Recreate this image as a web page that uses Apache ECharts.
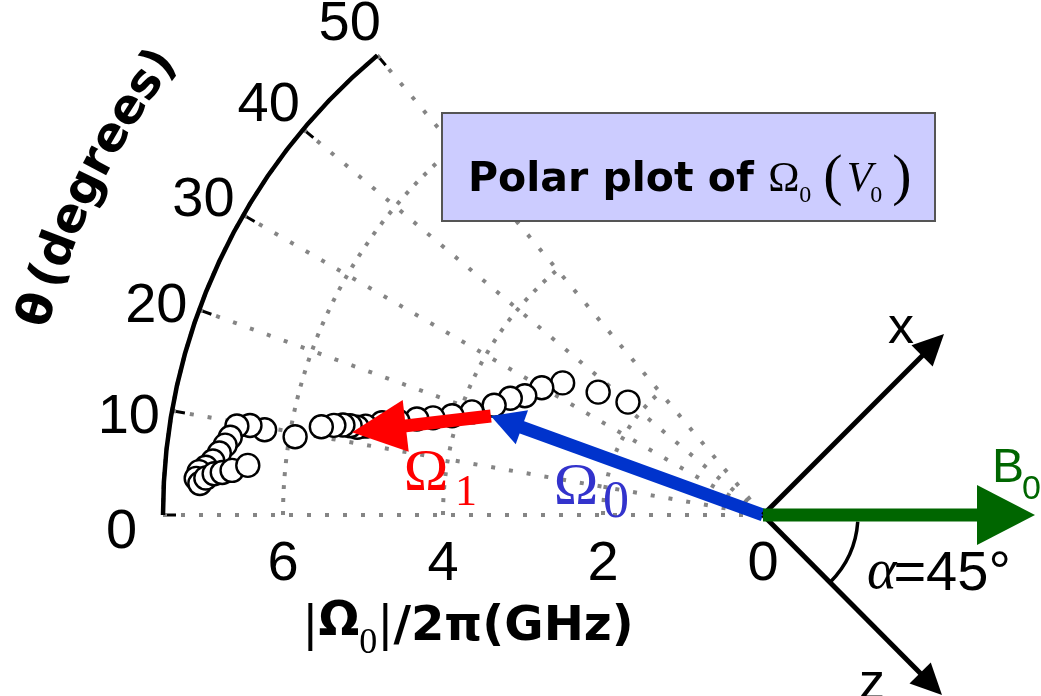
<!DOCTYPE html>
<html>
<head>
<meta charset="utf-8">
<script src="https://cdn.jsdelivr.net/npm/echarts@6/dist/echarts.min.js"></script>
<style>
  html, body { margin: 0; padding: 0; background: #fff; }
  #chart { width: 1041px; height: 696px; }
</style>
</head>
<body>
<div id="chart"></div>
<script>
// Precession frequency |Ω0|/2π (GHz) and tilt angle θ (degrees), one entry per bias step
const omegaGHz = [2.20, 2.57, 3.00, 3.19, 3.33, 3.48, 3.63, 3.86, 4.08, 4.30, 4.49, 4.71,
                  4.90, 5.09, 5.19, 5.28, 5.37, 5.48, 5.63, 5.93, 6.32, 6.51, 6.67, 6.73,
                  6.78, 6.84, 6.91, 6.99, 7.07, 7.10, 7.05, 6.98, 6.88, 6.78, 6.66, 6.47];
const thetaDeg = [39.9, 36.7, 33.4, 29.9, 26.6, 24.8, 22.2, 19.5, 17.7, 16.4, 15.5, 14.4,
                  13.6, 12.6, 12.2, 12.2, 12.1, 11.8, 11.3, 9.5, 9.7, 9.9, 9.6, 8.3,
                  7.4, 6.5, 5.6, 4.9, 4.4, 3.7, 3.2, 3.8, 4.3, 4.5, 4.8, 5.5];

// Axis ticks
const radiusTicks = [0, 2, 4, 6];
const angleTicks = [0, 10, 20, 30, 40, 50];
const radiusMax = 7.5;

// Vectors as [tail radius, tail angle, head radius, head angle]
const omega0Vector = [0, 0, 3.62, 20.0];
const omega1Vector = [3.62, 20.0, 5.24, 11.4];

const points = omegaGHz.map((r, i) => [r, thetaDeg[i]]);

function arrowRenderer(color, shaftWidth, headLen, headHalf) {
  return function (params, api) {
    const p0 = api.coord([api.value(0), api.value(1)]);
    const p1 = api.coord([api.value(2), api.value(3)]);
    return { type: 'group', children: arrowShapes(p0, p1, color, shaftWidth, headLen, headHalf) };
  };
}

function arrowShapes(p0, p1, color, shaftWidth, headLen, headHalf) {
  const dx = p1[0] - p0[0], dy = p1[1] - p0[1];
  const len = Math.hypot(dx, dy);
  const ux = dx / len, uy = dy / len;
  const bx = p1[0] - ux * headLen, by = p1[1] - uy * headLen;
  return [
    { type: 'line', shape: { x1: p0[0], y1: p0[1], x2: bx + ux * 2, y2: by + uy * 2 },
      style: { stroke: color, lineWidth: shaftWidth } },
    { type: 'polygon', shape: { points: [[p1[0], p1[1]], [bx - uy * headHalf, by + ux * headHalf], [bx + uy * headHalf, by - ux * headHalf]] },
      style: { fill: color } }
  ];
}

const chart = echarts.init(document.getElementById('chart'));
const gridStyle = { color: '#858585', width: 4 };

chart.setOption({
  animation: false,
  backgroundColor: '#ffffff',
  polar: { center: [763, 515], radius: [0, 600] },
  angleAxis: {
    type: 'value', min: 0, max: 50, interval: 10,
    startAngle: 180, endAngle: 130, clockwise: true,
    axisLine: { lineStyle: { color: '#000', width: 4.5 } },
    axisTick: { inside: true, length: 13, lineStyle: { color: '#000', width: 3 } },
    axisLabel: { show: false },
    splitLine: { show: true, lineStyle: Object.assign({ type: [4, 14] }, gridStyle) }
  },
  radiusAxis: {
    type: 'value', min: 0, max: radiusMax, interval: 2,
    axisLine: { show: false },
    axisTick: { show: false },
    axisLabel: {
      customValues: radiusTicks,
      fontSize: 56, color: '#000', fontFamily: 'Liberation Sans', margin: 22
    },
    splitLine: { show: true, lineStyle: Object.assign({ type: [4, 9] }, gridStyle) }
  },
  series: [
    {
      type: 'scatter', coordinateSystem: 'polar', data: points,
      symbol: 'circle', symbolSize: 23, z: 3, silent: true,
      itemStyle: { color: '#ffffff', borderColor: '#000', borderWidth: 2.4, opacity: 1 }
    },
    {
      type: 'custom', coordinateSystem: 'polar', data: [omega0Vector], z: 4, silent: true,
      renderItem: arrowRenderer('#0033cc', 13, 33, 18)
    },
    {
      type: 'custom', coordinateSystem: 'polar', data: [omega1Vector], z: 5, silent: true,
      renderItem: arrowRenderer('#ff0000', 13, 54, 26)
    }
  ]
});

// ---- annotations placed relative to the polar origin ----
const ctx = document.createElement('canvas').getContext('2d');
function textWidth(str, font) { ctx.font = font; return ctx.measureText(str).width; }
const c = chart.convertToPixel({ polarIndex: 0 }, [0, 0]);

function txt(x, y, text, font, fill, align, extra) {
  return Object.assign({
    type: 'text', x: x, y: y, silent: true, z: 100,
    style: { text: text, font: font, fill: fill || '#000', align: align || 'center', verticalAlign: 'middle' }
  }, extra || {});
}

// Lay pieces left to right: [text, font, fill, dy, extra gap]
function run(x, y, pieces) {
  const out = [];
  let cx = x;
  pieces.forEach(p => {
    out.push(txt(cx, y + (p[3] || 0), p[0], p[1], p[2], 'left'));
    cx += textWidth(p[0], p[1]) + (p[4] || 0);
  });
  return out;
}
function runWidth(pieces) {
  return pieces.reduce((s, p) => s + textWidth(p[0], p[1]) + (p[4] || 0), 0);
}

const g = [];
const tickFont = '56px "Liberation Sans"';

// θ tick labels outside the arc
angleTicks.forEach(t => {
  const p = chart.convertToPixel({ polarIndex: 0 }, [8.02, 1.03 * t - 1.6]);
  g.push(txt(p[0], p[1], String(t), tickFont));
});

// θ (degrees) written along an arc around the origin
(function () {
  const font = 'bold 48px "DejaVu Sans"';
  const chars = ['θ', '(', 'd', 'e', 'g', 'r', 'e', 'e', 's', ')'];
  const R = 752;
  let s = 0;
  const start = 15.8 * Math.PI / 180 - textWidth(chars[0], font) / 2 / R;
  chars.forEach((ch, i) => {
    const w = textWidth(ch, font);
    const phi = start + (s + w / 2) / R;
    g.push(txt(c[0] - R * Math.cos(phi), c[1] - R * Math.sin(phi), ch, font, '#000', 'center',
      { rotation: Math.PI / 2 - phi }));
    s += w + (i === 0 ? 8 : 0);
  });
})();

// |Ω0|/2π (GHz) axis title
(function () {
  const bold = 'bold 48px "DejaVu Sans"';
  const pieces = [
    ['|', '48px "DejaVu Sans"', '#000', 0],
    ['Ω', bold, '#000', -5],
    ['0', '36px "Liberation Serif"', '#000', 16],
    ['|', '48px "DejaVu Sans"', '#000', 0],
    ['/2π(GHz)', bold, '#000', 0]
  ];
  const w = runWidth(pieces);
  g.push(...run(c[0] - 295 - w / 2, c[1] + 113, pieces));
})();

// Label box
g.push({
  type: 'rect', silent: true, z: 90,
  shape: { x: 442, y: 113, width: 493, height: 108 },
  style: { fill: '#ccccff', stroke: '#555', lineWidth: 2 }
});
g.push(...run(468, 180, [
  ['Polar plot of ', 'bold 41px "DejaVu Sans"', '#000', 0, 0],
  ['Ω', '42px "Liberation Serif"', '#000', 0],
  ['0', '24px "Liberation Serif"', '#000', 16, 12],
  ['(', '58px "Liberation Serif"', '#000', -1, 4],
  ['V', 'italic 42px "Liberation Serif"', '#000', 0, -2],
  ['0', '24px "Liberation Serif"', '#000', 16, 10],
  [')', '58px "Liberation Serif"', '#000', -1]
]));

// Vector labels
g.push(txt(c[0] - 187, c[1] - 27, 'Ω', '60px "Liberation Serif"', '#3333cc'));
g.push(txt(c[0] - 147, c[1] - 12, '0', '52px "Liberation Serif"', '#3333cc'));
g.push(txt(c[0] - 337, c[1] - 41, 'Ω', '60px "Liberation Serif"', '#ff0000'));
g.push(txt(c[0] - 297, c[1] - 22, '1', '44px "Liberation Serif"', '#ff0000'));

// Laboratory frame: x, z and the static field B0
const ox = c[0], oy = c[1];
arrowShapes([ox, oy], [ox + 181, oy - 181], '#000', 5, 31, 15).forEach(e => { e.z = 95; e.silent = true; g.push(e); });
arrowShapes([ox, oy], [ox + 179, oy + 180], '#000', 5, 31, 15).forEach(e => { e.z = 95; e.silent = true; g.push(e); });
arrowShapes([ox, oy], [ox + 272, oy], '#006600', 13, 58, 30).forEach(e => { e.z = 96; e.silent = true; g.push(e); });
g.push({
  type: 'arc', silent: true, z: 95,
  shape: { cx: ox, cy: oy, r: 95, startAngle: 0.07, endAngle: Math.PI / 4, clockwise: true },
  style: { stroke: '#000', lineWidth: 3.5, fill: null }
});
g.push(txt(ox + 138, oy - 186, 'x', '52px "Liberation Sans"'));
g.push(txt(ox + 109, oy + 170, 'z', '52px "Liberation Sans"'));
g.push(txt(ox + 229, oy - 46, 'B', '48px "Liberation Sans"', '#006600', 'left'));
g.push(txt(ox + 259, oy - 25, '0', '34px "Liberation Sans"', '#006600', 'left'));
g.push(...run(ox + 104, oy + 60, [
  ['α', 'italic 56px "Liberation Serif"', '#000', -2, -3],
  ['=45°', '56px "Liberation Sans"', '#000', 0]
]));

chart.setOption({ graphic: { elements: g } });
</script>
</body>
</html>
